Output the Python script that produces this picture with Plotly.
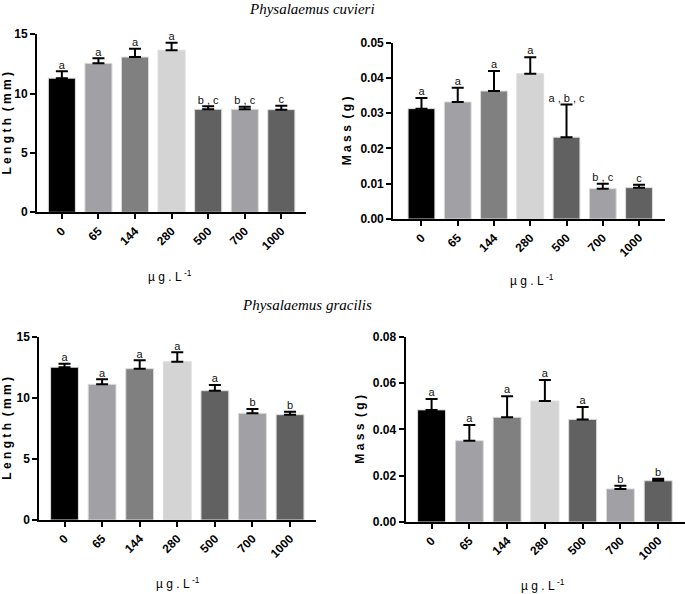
import plotly.graph_objects as go

# concentrations (µg.L-1)
doses = ["0", "65", "144", "280", "500", "700", "1000"]
bar_colors = ["#000000", "#a1a1a5", "#808080", "#d4d4d4", "#616161", "#a1a1a5", "#616161"]

# Physalaemus cuvieri
cuv_length = [11.3, 12.55, 13.08, 13.65, 8.68, 8.68, 8.65]
cuv_length_err = [0.58, 0.42, 0.7, 0.64, 0.25, 0.22, 0.33]
cuv_length_sig = ["a", "a", "a", "a", "b , c", "b , c", "c"]

cuv_mass = [0.0313, 0.0332, 0.0363, 0.0412, 0.0232, 0.0086, 0.0089]
cuv_mass_err = [0.003, 0.004, 0.0057, 0.0047, 0.0093, 0.0014, 0.0008]
cuv_mass_sig = ["a", "a", "a", "a", "a , b , c", "b , c", "c"]

# Physalaemus gracilis
gra_length = [12.5, 11.1, 12.38, 12.95, 10.58, 8.73, 8.62]
gra_length_err = [0.29, 0.41, 0.69, 0.77, 0.47, 0.35, 0.24]
gra_length_sig = ["a", "a", "a", "a", "a", "b", "b"]

gra_mass = [0.0484, 0.0351, 0.0452, 0.0522, 0.0443, 0.0143, 0.0178]
gra_mass_err = [0.0047, 0.0068, 0.0091, 0.0091, 0.0053, 0.0014, 0.0009]
gra_mass_sig = ["a", "a", "a", "a", "a", "b", "b"]

sp = "\u00a0"
length_title = sp.join("Length") + "\u00a0\u00a0" + sp.join("(mm)")
mass_title = sp.join("Mass") + "\u00a0\u00a0" + sp.join("(g)")

panels = [
    # values, errors, letters, y range, dtick, tick format, title, x domain, y domain, x range
    (cuv_length, cuv_length_err, cuv_length_sig, [0, 15], 5, "d", length_title,
     [0.054, 0.447], [0.6426, 0.9423], [-0.68, 6.68]),
    (cuv_mass, cuv_mass_err, cuv_mass_sig, [0, 0.05], 0.01, ".2f", mass_title,
     [0.574, 0.971], [0.6313, 0.9281], [-0.78, 6.72]),
    (gra_length, gra_length_err, gra_length_sig, [0, 15], 5, "d", length_title,
     [0.0574, 0.4613], [0.1246, 0.4332], [-0.67, 6.69]),
    (gra_mass, gra_mass_err, gra_mass_sig, [0, 0.08], 0.02, ".2f", mass_title,
     [0.592, 1.0], [0.1212, 0.4332], [-0.69, 6.71]),
]

fig = go.Figure()
layout = {}
for i, (vals, errs, sig, yr, dt, fmt, ytitle, xd, yd, xr) in enumerate(panels, start=1):
    xa = "x" if i == 1 else f"x{i}"
    ya = "y" if i == 1 else f"y{i}"
    fig.add_trace(go.Bar(
        x=doses, y=vals, xaxis=xa, yaxis=ya, width=0.74,
        marker=dict(color=bar_colors, line=dict(color="#dcdcdc", width=1)),
        error_y=dict(type="data", array=errs, arrayminus=[0] * len(errs), symmetric=False,
                     color="black", thickness=2, width=6),
        showlegend=False,
    ))
    tops = [v + e for v, e in zip(vals, errs)]
    fig.add_trace(go.Scatter(
        x=doses, y=tops, xaxis=xa, yaxis=ya, mode="text", text=sig,
        textposition="top center", textfont=dict(family="Liberation Sans", size=11, color="#111111"),
        showlegend=False, cliponaxis=False,
    ))
    layout["xaxis" if i == 1 else f"xaxis{i}"] = dict(
        domain=xd, anchor=ya, type="category", range=xr, automargin=False,
        showline=True, linecolor="black", linewidth=2,
        ticks="outside", ticklen=5, tickwidth=2, tickcolor="black",
        tickangle=-45, tickfont=dict(family="Liberation Sans", size=12, color="black", weight="bold"),
        showgrid=False, zeroline=False,
    )
    layout["yaxis" if i == 1 else f"yaxis{i}"] = dict(
        domain=yd, anchor=xa, range=yr, dtick=dt, tickformat=fmt, automargin=False,
        showline=True, linecolor="black", linewidth=2,
        ticks="outside", ticklen=5, tickwidth=2, tickcolor="black",
        tickfont=dict(family="Liberation Sans", size=12, color="black", weight="bold"),
        title=dict(text=ytitle, font=dict(family="Liberation Sans", size=12, color="black", weight="bold"),
                   standoff=6),
        showgrid=False, zeroline=False,
    )

fig.update_layout(**layout)

xunit = "µ g . L<sup> -1</sup>"
for ax, ay in [(170, 276), (532, 280), (178, 583), (543, 585)]:
    fig.add_annotation(text=xunit, x=ax / 685, y=1 - ay / 594, xref="paper", yref="paper",
                       xanchor="center", yanchor="middle", showarrow=False,
                       font=dict(family="Liberation Sans", size=12, color="black"))

for txt, tx, ty in [("Physalaemus cuvieri", 312, 9), ("Physalaemus gracilis", 307, 305)]:
    fig.add_annotation(text=txt, x=tx / 685, y=1 - ty / 594, xref="paper", yref="paper",
                       xanchor="center", yanchor="middle", showarrow=False,
                       font=dict(family="Liberation Serif", size=15, color="black", style="italic"))

fig.update_layout(
    width=685, height=594,
    margin=dict(l=0, r=0, t=0, b=0, autoexpand=False),
    plot_bgcolor="white", paper_bgcolor="white",
)

# the page's default body margin would shift the figure by 8px
fig.write_html("out.html", config={"displayModeBar": False},
               post_script="document.body.style.margin='0';")
